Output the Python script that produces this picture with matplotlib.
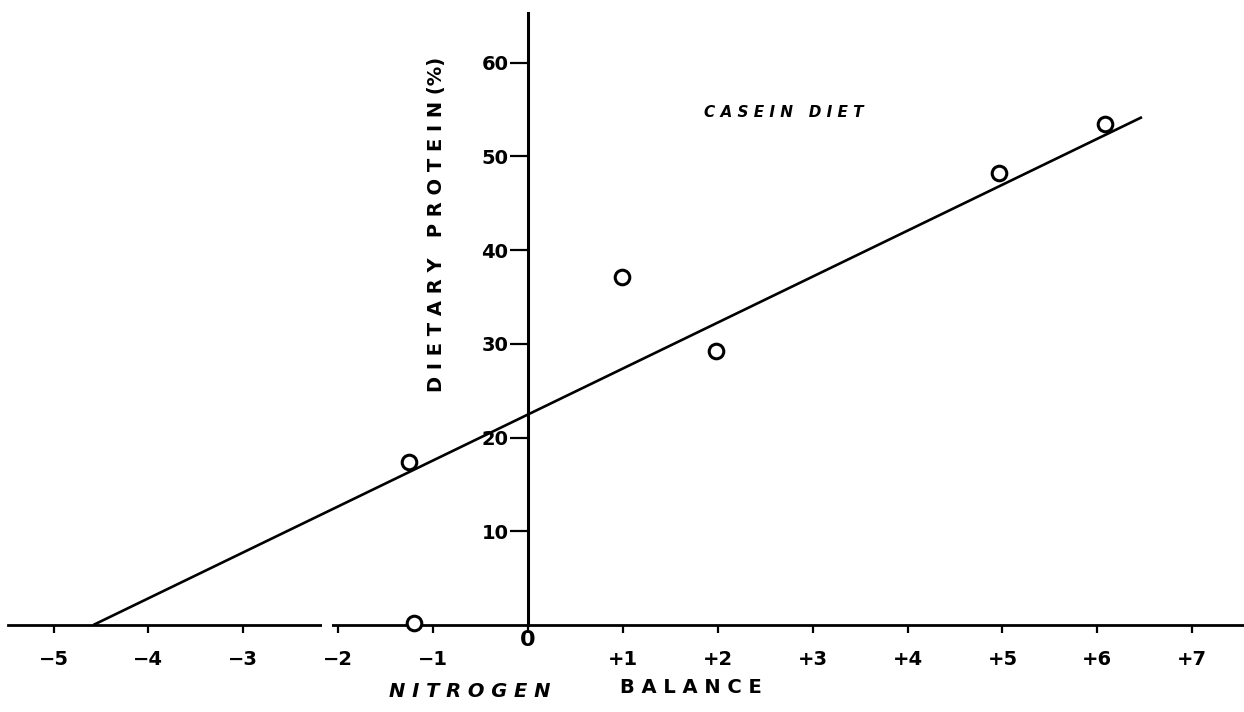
import matplotlib.pyplot as plt
from matplotlib import transforms

# Nitrogen balance vs dietary protein, casein diet
balance = [-1.25, -1.2, 0.99, 1.98, 4.96, 6.08]
protein = [17.4, 0.2, 37.1, 29.2, 48.2, 53.5]

# fitted line end points
fit_x = [-4.58, 6.47]
fit_y = [0.0, 54.2]

x_ticks = [-5, -4, -3, -2, -1, 0, 1, 2, 3, 4, 5, 6, 7]
x_labels = ['\u22125', '\u22124', '\u22123', '\u22122', '\u22121', '0',
            '+1', '+2', '+3', '+4', '+5', '+6', '+7']
y_ticks = [10, 20, 30, 40, 50, 60]
y_labels = ['10', '20', '30', '40', '50', '60']

plt.rcParams['font.family'] = ['DejaVu Sans']

fig = plt.figure(figsize=(12.44, 7.12), dpi=100)
ax = fig.add_axes([0, 0, 1, 1])
ax.set_xlim(-5.564, 7.545)
ax.set_ylim(-9.29, 66.7)

for side in ['top', 'right']:
    ax.spines[side].set_visible(False)
ax.spines['left'].set_position(('data', 0))
ax.spines['bottom'].set_position(('data', 0))
ax.spines['left'].set_bounds(0, 65.3)
ax.spines['bottom'].set_bounds(-5.48, 7.545)
ax.spines['left'].set_linewidth(2.2)
ax.spines['bottom'].set_linewidth(2.0)

ax.set_xticks(x_ticks)
ax.set_xticklabels(x_labels, fontsize=14, fontweight='bold')
ax.set_yticks(y_ticks)
ax.set_yticklabels(y_labels, fontsize=14, fontweight='bold')
ax.tick_params(axis='x', direction='out', length=6, width=1.6, pad=12)
ax.tick_params(axis='y', direction='out', length=13, width=1.6, pad=1)

# the zero label sits a little higher
zero_lbl = ax.get_xticklabels()[5]
zero_lbl.set_transform(zero_lbl.get_transform() +
                       transforms.ScaledTranslation(0, 0.2, fig.dpi_scale_trans))
zero_lbl.set_fontsize(16)

# small break in the horizontal axis
ax.plot([-2.17, -2.07], [0, 0], color='white', lw=3, solid_capstyle='butt', zorder=4)

ax.plot(fit_x, fit_y, color='black', lw=1.9, solid_capstyle='butt')
ax.plot(balance, protein, 'o', ms=10.5, mfc='white', mec='black', mew=2.2, zorder=3)

ax.text(2.69, 54.7, 'C A S E I N   D I E T', fontsize=11, fontweight='bold',
        style='italic', ha='center', va='center')
ax.text(-0.96, 42.7, 'D I E T A R Y   P R O T E I N (%)', fontsize=14,
        fontweight='bold', rotation=90, ha='center', va='center')
ax.text(-0.61, -7.15, 'N I T R O G E N', fontsize=14, fontweight='bold',
        style='italic', ha='center', va='center')
ax.text(1.72, -6.72, 'B A L A N C E', fontsize=14, fontweight='bold',
        ha='center', va='center')

fig.savefig('out.png', dpi=100)
